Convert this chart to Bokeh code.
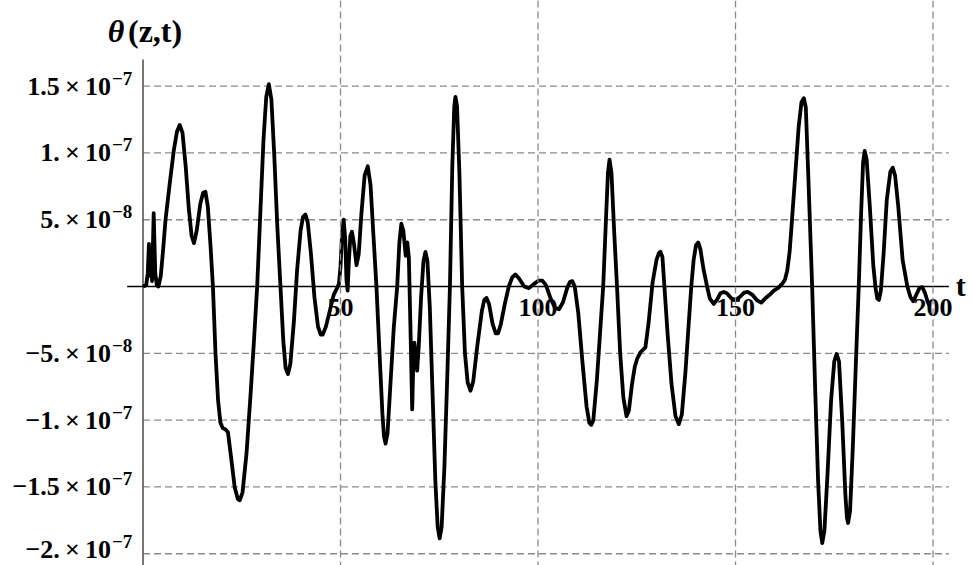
from bokeh.plotting import figure
from bokeh.models import ColumnDataSource, Range1d, Span
from bokeh.core.properties import value
from bokeh.embed import file_html
from bokeh.resources import INLINE

# ---- data (theta in units of 1e-8) ----
t_vals = [0, 0.8, 1.2, 1.5, 1.7, 2.0, 2.3, 2.7, 3.1, 3.5, 3.9, 4.5, 5.1, 5.7, 6.8, 7.8, 8.6, 9.3, 10.0, 10.8,
          11.6, 12.3, 12.9, 13.6, 14.5, 15.2, 15.8, 16.4, 17.1, 17.7, 18.35, 19.0, 19.6, 20.2, 20.9, 21.5, 22.3, 23.2, 24.0, 24.5,
          25.2, 26.2, 27.2, 28.1, 28.9, 29.7, 30.5, 31.2, 31.85, 32.5, 33.2, 34.0, 34.8, 35.5, 36.1, 36.7, 37.3, 38.2, 39.0, 39.9,
          40.5, 41.1, 41.7, 42.5, 43.4, 44.3, 45.0, 45.5, 46.3, 47.3, 48.3, 49.0, 49.6, 50.0, 50.4, 50.8, 51.2, 51.5, 51.8, 52.1,
          52.5, 52.9, 53.4, 54.05, 54.6, 55.3, 56.1, 56.9, 57.6, 58.3, 59.1, 59.8, 60.6, 61.0, 61.4, 61.9, 62.6, 63.5, 64.35, 64.9,
          65.4, 65.9, 66.5, 66.9, 67.3, 67.7, 68.15, 68.4, 68.7, 69.0, 69.4, 69.8, 70.4, 71.0, 71.5, 72.0, 72.6, 73.3, 74.0, 74.6,
          75.1, 75.6, 76.3, 77.0, 77.7, 78.3, 78.8, 79.1, 79.5, 80.1, 80.8, 81.5, 82.2, 82.9, 83.6, 84.6, 85.8, 86.4, 86.96, 87.6,
          88.5, 89.3, 89.9, 90.6, 91.6, 92.6, 93.5, 94.3, 95.2, 96.5, 97.7, 99.0, 100.2, 101.1, 102.0, 103.2, 104.3, 105.3, 106.3, 107.4,
          108.1, 108.7, 109.3, 110.2, 111.2, 112.3, 113.0, 113.5, 114.0, 114.9, 115.7, 116.5, 117.2, 117.7, 118.1, 118.6, 119.3, 120.0, 120.8, 121.6,
          122.4, 123.0, 123.8, 124.5, 125.1, 126.0, 127.2, 128.0, 129.0, 130.0, 130.6, 131.0, 131.5, 132.0, 132.8, 133.8, 134.8, 135.65, 136.4, 137.3,
          138.1, 138.8, 139.4, 140.0, 140.55, 141.1, 141.9, 142.8, 143.5, 144.5, 145.3, 146.2, 147.0, 147.8, 149.0, 150.0, 151.0, 152.2, 153.1, 154.2,
          155.5, 156.5, 157.5, 158.7, 159.7, 160.8, 161.8, 162.5, 163.1, 163.7, 164.3, 165.2, 166.0, 166.7, 167.3, 167.8, 168.4, 169.4, 170.2, 170.9,
          171.5, 171.95, 172.5, 173.3, 174.2, 175.0, 175.6, 176.2, 177.0, 177.8, 178.2, 178.5, 179.0, 179.7, 180.5, 181.2, 181.8, 182.3, 182.7, 183.2,
          184.0, 184.9, 185.5, 185.9, 186.3, 186.8, 187.5, 188.3, 189.2, 189.8, 190.4, 191.2, 192.3, 193.5, 194.3, 195.0, 195.8, 196.6, 197.3, 198.0,
          198.6, 199.2]
theta_1e8 = [0, 0.1, 1.0, 3.2, 0.8, 2.6, 0.4, 5.5, 1.0, 0.1, 0.0, 0.8, 2.8, 5.0, 7.8, 10.2, 11.6, 12.1, 11.5, 9.0,
             5.8, 3.8, 3.25, 4.2, 6.2, 7.0, 7.1, 6.0, 3.0, 0, -5.0, -8.5, -10.2, -10.6, -10.7, -10.9, -12.8, -15.0, -15.9, -16.0,
             -15.4, -12.5, -8.2, -4.0, 0, 5.5, 11.0, 14.2, 15.15, 14.0, 10.0, 4.5, 0, -4.0, -6.1, -6.55, -5.8, -2.6, 1.2, 4.2,
             5.2, 5.4, 4.8, 2.5, -0.8, -3.0, -3.6, -3.6, -3.0, -1.8, -0.6, -0.2, 0.2, 1.5, 4.0, 5.0, 3.5, 0.5, -0.3, 1.8,
             3.8, 4.1, 3.2, 1.6, 2.4, 5.5, 8.3, 9.0, 7.6, 4.0, 0, -4.5, -9.5, -11.2, -11.75, -11.0, -7.5, -3.0, 0, 3.3,
             4.7, 4.2, 2.3, 3.3, 2.2, -3.0, -9.2, -6.0, -4.2, -5.0, -6.3, -4.5, -0.8, 1.9, 2.6, 1.9, -1.5, -8.0, -14.5, -18.0,
             -18.85, -18.0, -13.5, -7.0, 0, 9.0, 13.5, 14.2, 13.5, 8.5, 0, -5.0, -7.2, -7.8, -7.1, -4.5, -1.8, -1.0, -0.85, -1.3,
             -2.8, -3.5, -3.5, -2.8, -1.3, 0, 0.7, 0.9, 0.6, 0.0, -0.12, 0.2, 0.45, 0.45, 0.1, -0.9, -1.6, -1.7, -1.2, -0.1,
             0.35, 0.4, 0.0, -2.0, -5.5, -9.0, -10.2, -10.35, -10.0, -7.0, -3.5, 0, 5.0, 8.5, 9.5, 8.5, 4.0, 0, -5.0, -8.3,
             -9.7, -9.3, -7.3, -6.0, -5.4, -4.9, -4.55, -2.7, 0.3, 2.0, 2.5, 2.6, 2.2, 0, -3.5, -7.3, -9.7, -10.3, -9.6, -6.5,
             -3.0, 0, 2.0, 3.1, 3.3, 2.8, 1.3, 0, -0.9, -1.3, -1.0, -0.5, -0.4, -0.5, -0.9, -1.0, -0.8, -0.45, -0.4, -0.6,
             -1.05, -1.2, -0.9, -0.6, -0.3, -0.1, 0.2, 0.5, 1.2, 2.6, 5.0, 8.7, 12.0, 13.8, 14.1, 13.4, 8.5, 0, -8.0, -14.5,
             -18.3, -19.2, -18.3, -14.0, -8.5, -5.6, -5.05, -5.6, -10.0, -15.5, -17.3, -17.7, -16.8, -12.0, -5.5, 0, 5.5, 9.3, 10.15, 9.5,
             6.0, 1.5, -0.2, -0.9, -1.0, -0.3, 2.5, 6.5, 8.6, 8.9, 8.3, 6.0, 2.0, 0, -0.8, -1.1, -0.6, -0.1, -0.05, -0.5,
             -1.1, -1.5]
theta = [v * 1e-8 for v in theta_1e8]

xtick_values = [50, 100, 150, 200]
xtick_labels = ["50", "100", "150", "200"]
ytick_values = [1.5e-7, 1e-7, 5e-8, -5e-8, -1e-7, -1.5e-7, -2e-7]
ytick_mant = ["1.5\u2009\u00d7\u200910", "1.\u2009\u00d7\u200910", "5.\u2009\u00d7\u200910", "\u22125.\u2009\u00d7\u200910",
              "\u22121.\u2009\u00d7\u200910", "\u22121.5\u2009\u00d7\u200910", "\u22122.\u2009\u00d7\u200910"]
ytick_exp = ["\u22127", "\u22127", "\u22128", "\u22128", "\u22127", "\u22127", "\u22127"]

# ---- figure ----
X0, X1 = -36.08, 210.25
Y0, Y1 = -20.88e-8, 21.41e-8
AX_TOP = 1.70e-7
AX_LEFT, AX_RIGHT = -4.0, 204.0

p = figure(width=973, height=565, x_range=Range1d(X0, X1), y_range=Range1d(Y0, Y1),
           output_backend="svg", toolbar_location=None, min_border=0,
           x_axis_location=None, y_axis_location=None)
p.grid.visible = False
p.outline_line_color = None
p.background_fill_color = "white"
p.border_fill_color = "white"

GRID = "#8a8a8a"
for xv in xtick_values:
    p.add_layout(Span(location=xv, dimension="height", line_color=GRID,
                      line_width=1.3, line_dash="7 4"))
p.segment(x0=[0] * len(ytick_values), x1=[AX_RIGHT] * len(ytick_values),
          y0=ytick_values, y1=ytick_values, line_color=GRID, line_width=1.3, line_dash="7 4")

# axes
p.segment(x0=[0], x1=[0], y0=[Y0], y1=[AX_TOP], line_color="#555555", line_width=1.6)
p.segment(x0=[AX_LEFT], x1=[AX_RIGHT], y0=[0], y1=[0], line_color="black", line_width=1.6)

# curve
p.line(t_vals, theta, line_color="black", line_width=3.8, line_join="round")

FONT = value("Liberation Serif")
# the lowest label sits at the page edge: lift it a few pixels so it stays whole
m_off = [0] * (len(ytick_values) - 1) + [-4]
e_off = [-8] * (len(ytick_values) - 1) + [-12]
ysrc = ColumnDataSource(dict(x=[0] * len(ytick_values), y=ytick_values, m=ytick_mant, e=ytick_exp,
                             mo=m_off, eo=e_off))
p.text(x="x", y="y", text="m", source=ysrc, text_font=FONT, text_font_style="bold",
       text_font_size="26px", text_align="right", text_baseline="alphabetic",
       x_offset=-32, y_offset="mo", text_color="black")
p.text(x="x", y="y", text="e", source=ysrc, text_font=FONT, text_font_style="bold",
       text_font_size="19px", text_align="left", text_baseline="alphabetic",
       x_offset=-31, y_offset="eo", text_color="black")

xsrc = ColumnDataSource(dict(x=xtick_values, y=[0] * len(xtick_values), s=xtick_labels))
p.text(x="x", y="y", text="s", source=xsrc, text_font=FONT, text_font_style="bold",
       text_font_size="26px", text_align="center", text_baseline="alphabetic",
       y_offset=21, text_color="black")

# axis labels
p.text(x=[0], y=[AX_TOP], text=["\u03b8"], text_font=FONT, text_font_style="bold italic",
       text_font_size="32px", text_align="center", text_baseline="alphabetic",
       x_offset=-27, y_offset=-28, text_color="black")
p.text(x=[0], y=[AX_TOP], text=["(z,t)"], text_font=FONT, text_font_style="bold",
       text_font_size="32px", text_align="left", text_baseline="alphabetic",
       x_offset=-15, y_offset=-28, text_color="black")
p.text(x=[AX_RIGHT], y=[0], text=["t"], text_font=FONT, text_font_style="bold",
       text_font_size="30px", text_align="left", text_baseline="alphabetic",
       x_offset=7, y_offset=-1, text_color="black")

open("out.html", "w").write(file_html(p, INLINE))
